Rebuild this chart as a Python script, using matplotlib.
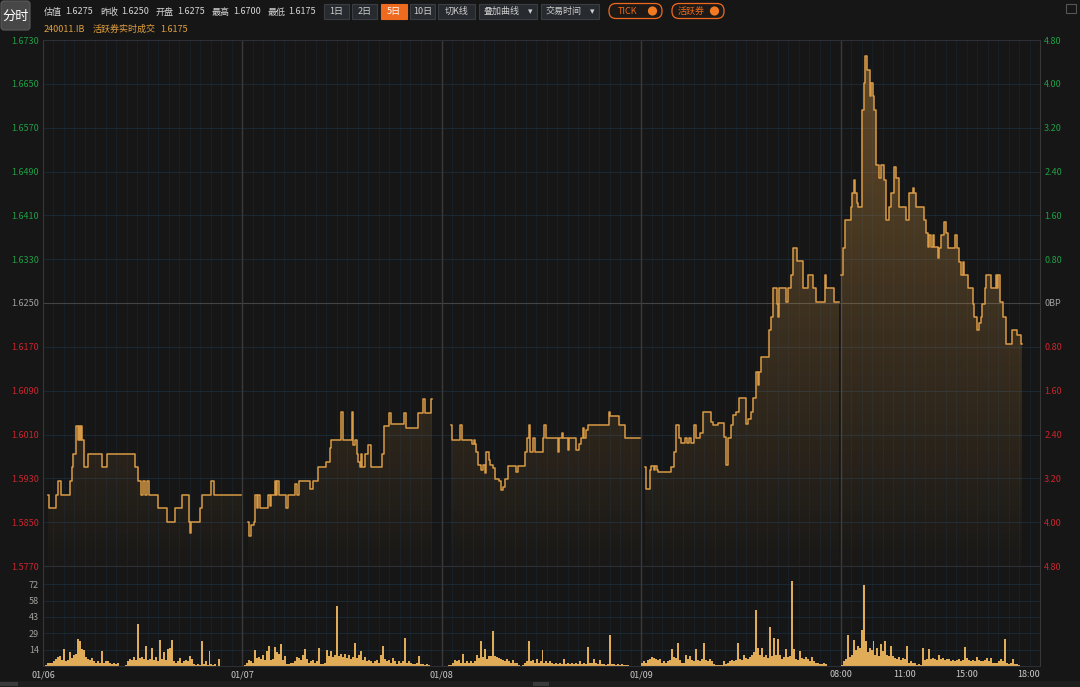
import numpy as np
import matplotlib
matplotlib.use('Agg')
import matplotlib.pyplot as plt
from matplotlib.colors import to_rgb
from matplotlib.patches import FancyBboxPatch, Circle, Rectangle

plt.rcParams['font.family'] = ['Noto Sans CJK SC', 'DejaVu Sans']

# ---------------- data ----------------
prev_close = 1.6250
price_lo, price_hi = 1.5770, 1.6730
day_labels = ['01/06', '01/07', '01/08', '01/09']
last_day_times = ['08:00', '11:00', '15:00', '18:00']
last_day_time_pos = [0, 64, 126, 189]
vol_ticks = [14.4, 28.8, 43.2, 57.6, 72.0]

quote_fields = [('估值', '1.6275'), ('昨收', '1.6250'), ('开盘', '1.6275'),
                ('最高', '1.6700'), ('最低', '1.6175')]
bond_code = '240011.IB'
last_trade_label = '活跃券实时成交'
last_trade = '1.6175'

# (session position, yield) tick breakpoints per day
day1 = [(5, 1.5900), (6, 1.5875), (12.7, 1.5900), (15, 1.5925), (17.7, 1.5900),
        (27, 1.5925), (29, 1.5950), (30.3, 1.5975), (32.7, 1.6000), (33.3, 1.6025),
        (35, 1.6000), (36, 1.6025), (37, 1.6000), (38, 1.6025), (38.7, 1.6000),
        (41, 1.5950), (45, 1.5975), (58.7, 1.5950), (64, 1.5975), (92, 1.5950),
        (95, 1.5925), (98, 1.5900), (100, 1.5925), (102, 1.5900), (104.3, 1.5925),
        (106.3, 1.5900), (115.3, 1.5875), (124.7, 1.5850), (132, 1.5875), (139.3, 1.5900),
        (146, 1.5850), (147.3, 1.5830), (148.5, 1.5850), (157, 1.5875), (159, 1.5900),
        (168.7, 1.5925), (172, 1.5900), (198.7, 1.5900)]

day2 = [(5.8, 1.5850), (6.8, 1.5825), (8.5, 1.5845), (11.5, 1.5850), (12.5, 1.5900),
        (14.5, 1.5875), (15.5, 1.5900), (17.5, 1.5875), (25.8, 1.5900), (27.5, 1.5880),
        (29, 1.5900), (32.5, 1.5925), (34, 1.5900), (35, 1.5925), (36.8, 1.5900),
        (44.2, 1.5875), (45.5, 1.5900), (53.2, 1.5920), (55, 1.5900), (56.8, 1.5925),
        (67.5, 1.5910), (70.8, 1.5925), (75.8, 1.5950), (84.2, 1.5960), (87.5, 1.5985),
        (89.2, 1.6000), (98.5, 1.6051), (100.5, 1.6000), (109.5, 1.6051), (111.2, 1.5990),
        (113, 1.6000), (114.5, 1.5975), (116, 1.5960), (117.5, 1.5950), (119, 1.5975),
        (120, 1.5950), (122.5, 1.5975), (125.8, 1.5990), (129.2, 1.5950), (140.2, 1.5975),
        (141.8, 1.6025), (147.5, 1.6050), (149.5, 1.6030), (162.5, 1.6050), (164.2, 1.6022),
        (175.8, 1.6050), (180.8, 1.6075), (183.5, 1.6050), (189.2, 1.6075), (190.5, 1.6075)]

day3 = [(9.7, 1.6028), (10.7, 1.6000), (18, 1.6028), (20.3, 1.6000), (30.7, 1.5992),
        (32, 1.6000), (33.5, 1.5992), (34.7, 1.5978), (36.3, 1.5954), (39.7, 1.5945),
        (41, 1.5954), (43, 1.5940), (44.7, 1.5978), (47, 1.5963), (48, 1.5954),
        (51.3, 1.5948), (53, 1.5928), (57, 1.5925), (59.7, 1.5908), (61.5, 1.5915),
        (63, 1.5928), (66.3, 1.5953), (74, 1.5942), (76.3, 1.5953), (83, 1.5978),
        (85.3, 1.6003), (87.3, 1.6028), (88.7, 1.5978), (91.3, 1.6003), (93, 1.5978),
        (101.3, 1.6003), (103, 1.6028), (104.7, 1.6003), (116.3, 1.5978), (118, 1.6003),
        (121, 1.6012), (122, 1.6003), (126.3, 1.5981), (128, 1.6003), (134.7, 1.5981),
        (138, 1.5993), (139.7, 1.6003), (141.3, 1.6021), (143, 1.6003), (144.7, 1.6018),
        (146.3, 1.6028), (168, 1.6051), (168.7, 1.6043), (178, 1.6028), (184, 1.6003),
        (199, 1.6003)]

day4 = [(3.5, 1.5951), (5.2, 1.5911), (8.5, 1.5945), (10.2, 1.5952), (13, 1.5945),
        (14, 1.5952), (15.8, 1.5945), (16.8, 1.5942), (30.2, 1.5951), (32.8, 1.5978),
        (35.2, 1.6027), (37.8, 1.6003), (40.2, 1.5994), (44, 1.6003), (45.5, 1.5994),
        (48, 1.6003), (49.5, 1.5994), (52.8, 1.6027), (55.2, 1.6003), (58.5, 1.6012),
        (61.8, 1.6051), (70.2, 1.6033), (71.8, 1.6027), (76.8, 1.6031), (83.5, 1.6006),
        (85.2, 1.5954), (86.8, 1.6003), (90.2, 1.6027), (91.8, 1.6045), (95.2, 1.6051),
        (98.5, 1.6076), (105.2, 1.6030), (106.8, 1.6039), (110.2, 1.6051), (111.8, 1.6076),
        (115.2, 1.6124), (116.8, 1.6100), (118.5, 1.6124), (120.2, 1.6152), (128.5, 1.6200),
        (130.2, 1.6225), (131.8, 1.6277), (135.8, 1.6249), (136.8, 1.6225), (137.8, 1.6277),
        (145.2, 1.6251), (146.8, 1.6277), (150.2, 1.6301), (151.8, 1.6350), (155.8, 1.6327),
        (162.5, 1.6277), (167.8, 1.6301), (172.8, 1.6277), (175.8, 1.6251), (184.5, 1.6301),
        (185.2, 1.6277), (193.5, 1.6251), (198.5, 1.6251)]

day5 = [(0.5, 1.6301), (2.3, 1.6350), (4, 1.6401), (10, 1.6426), (11.7, 1.6450),
        (13, 1.6474), (14, 1.6450), (16.3, 1.6432), (17.3, 1.6426), (21.7, 1.6602),
        (23, 1.6651), (24.3, 1.6700), (26.3, 1.6675), (29, 1.6627), (30.7, 1.6651),
        (32.3, 1.6627), (34, 1.6602), (35.7, 1.6502), (39, 1.6478), (40.7, 1.6502),
        (44, 1.6474), (45.7, 1.6401), (49, 1.6426), (50.7, 1.6450), (54, 1.6499),
        (55.7, 1.6478), (59, 1.6426), (65.7, 1.6401), (68.3, 1.6450), (72.3, 1.6459),
        (74, 1.6450), (75.7, 1.6426), (84, 1.6401), (85.7, 1.6377), (87.3, 1.6353),
        (89, 1.6374), (90.7, 1.6353), (92.3, 1.6374), (94, 1.6353), (97.3, 1.6332),
        (99, 1.6350), (100.7, 1.6374), (104, 1.6398), (105.7, 1.6377), (107.3, 1.6350),
        (115, 1.6374), (116.3, 1.6350), (119, 1.6325), (120.7, 1.6301), (123, 1.6325),
        (124, 1.6301), (127.3, 1.6277), (132.3, 1.6249), (134, 1.6225), (137.3, 1.6201),
        (139, 1.6213), (140.7, 1.6225), (142.3, 1.6249), (145, 1.6277), (146.3, 1.6301),
        (150.7, 1.6277), (155.7, 1.6301), (157.3, 1.6277), (158.3, 1.6301), (159.7, 1.6251),
        (163, 1.6225), (165.7, 1.6176), (172.3, 1.6201), (177.3, 1.6192), (180.7, 1.6176),
        (181.5, 1.6176)]

# traded volume, one value per 2-unit slot of each session
vol1 = [0, 1, 3, 3, 3, 4, 6, 8, 9, 5, 15, 4, 5, 12, 7, 10, 11, 24, 22, 15,
        14, 8, 6, 5, 7, 4, 3, 4, 3, 13, 3, 4, 4, 3, 2, 3, 2, 3, 0, 0,
        0, 1, 4, 6, 5, 8, 5, 37, 7, 8, 6, 18, 5, 6, 16, 5, 8, 4, 23, 6,
        12, 5, 15, 16, 23, 4, 3, 4, 7, 3, 4, 5, 4, 9, 6, 2, 1, 2, 1, 22,
        2, 4, 1, 13, 2, 1, 2, 0, 6, 0, 0, 0, 0, 0, 0, 0, 0, 0, 0, 0]
vol2 = [0, 1, 3, 5, 4, 3, 14, 7, 8, 6, 10, 5, 13, 18, 5, 6, 17, 12, 11, 19,
        5, 9, 2, 2, 3, 3, 4, 8, 7, 5, 10, 15, 6, 3, 4, 5, 3, 4, 16, 2,
        2, 3, 14, 9, 13, 8, 10, 53, 9, 11, 8, 11, 7, 10, 6, 8, 20, 7, 10, 13,
        5, 8, 4, 5, 4, 3, 4, 5, 3, 10, 18, 6, 4, 5, 3, 7, 4, 2, 4, 3,
        4, 25, 3, 4, 3, 2, 2, 3, 9, 2, 2, 1, 2, 1, 0, 0, 0, 0, 0, 0]
vol3 = [0, 0, 0, 1, 1, 3, 5, 4, 5, 3, 11, 3, 4, 3, 4, 3, 4, 10, 7, 22,
        8, 15, 6, 9, 9, 31, 9, 8, 7, 6, 5, 4, 6, 4, 3, 5, 3, 3, 1, 0,
        1, 3, 4, 22, 4, 5, 3, 6, 3, 4, 14, 3, 4, 3, 4, 3, 2, 3, 2, 3,
        2, 6, 2, 3, 2, 3, 2, 3, 2, 4, 2, 3, 2, 17, 3, 3, 6, 3, 2, 5,
        2, 2, 1, 2, 27, 2, 2, 1, 2, 1, 2, 1, 1, 1, 0, 0, 0, 0, 0, 0]
vol4 = [3, 4, 3, 5, 6, 8, 7, 6, 5, 6, 3, 4, 3, 4, 5, 15, 8, 7, 20, 5,
        3, 3, 10, 6, 9, 5, 4, 15, 5, 4, 6, 20, 5, 4, 6, 4, 2, 1, 1, 1,
        1, 4, 2, 3, 4, 5, 4, 5, 20, 6, 5, 10, 7, 6, 8, 10, 12, 49, 16, 10,
        16, 8, 10, 7, 34, 9, 25, 10, 24, 10, 6, 8, 15, 8, 9, 75, 15, 6, 5, 13,
        7, 6, 8, 6, 4, 8, 4, 3, 3, 2, 2, 3, 2, 0, 0, 0, 0, 0, 0, 0]
vol5 = [1, 4, 6, 27, 8, 10, 23, 14, 18, 16, 32, 71, 22, 12, 16, 14, 22, 10, 16, 9,
        19, 13, 22, 10, 9, 18, 9, 7, 6, 8, 5, 7, 6, 18, 3, 4, 3, 3, 1, 2,
        1, 16, 5, 6, 15, 6, 7, 6, 5, 10, 6, 7, 5, 6, 6, 4, 5, 4, 5, 6,
        4, 5, 17, 7, 5, 4, 5, 4, 8, 5, 4, 4, 5, 7, 4, 7, 3, 3, 3, 4,
        6, 4, 24, 3, 2, 3, 6, 2, 2, 1, 0, 0, 0, 0, 0, 0, 0, 0, 0, 0]

days = [day1, day2, day3, day4, day5]
vols = [vol1, vol2, vol3, vol4, vol5]

# ---------------- style ----------------
BG = '#161616'
LINE = '#d99a45'
VOL = '#e0ac58'
GRID = '#1a2834'
VGRID = '#17202a'
SEP = '#3a3a3a'
GREEN = '#1f9e45'
RED = '#c9252d'
GRAY = '#a0a0a0'
ORANGE = '#ee6a1e'
W, H = 1080, 687
DAY = 200

fig = plt.figure(figsize=(W / 100, H / 100), dpi=100, facecolor=BG)


def fig_rect(x0, y0, x1, y1):
    return [x0 / W, 1 - y1 / H, (x1 - x0) / W, (y1 - y0) / H]


ax = fig.add_axes(fig_rect(43, 40, 1040, 566), facecolor=BG)
axv = fig.add_axes(fig_rect(43, 566, 1040, 666), facecolor=BG)

yt = np.round(price_lo + 0.008 * np.arange(13), 4)

for a in (ax, axv):
    a.set_xlim(0, 5 * DAY)
    for xg in np.arange(0, 5 * DAY, DAY / 19):
        a.axvline(xg, color=VGRID, lw=0.6, zorder=0.3)
    for d in range(1, 5):
        a.axvline(d * DAY, color=SEP, lw=1.0, zorder=0.6)
    for s in a.spines.values():
        s.set_color('#2c3036')
        s.set_linewidth(0.8)
    a.spines['left'].set_color('#383838')
    a.spines['right'].set_color('#383838')

# price panel
ax.set_ylim(price_lo, price_hi)
for y in yt:
    ax.axhline(y, color='#444444' if np.isclose(y, prev_close) else GRID, lw=0.8, zorder=0.5)

grad = np.zeros((256, 1, 4))
grad[..., :3] = to_rgb(LINE)
grad[:, 0, 3] = np.linspace(0.40, 0.02, 256)

for d, pts in enumerate(days):
    t, p = zip(*pts)
    x = d * DAY + np.array(t)
    poly = ax.fill_between(x, p, price_lo, step='post', facecolor='none', edgecolor='none')
    im = ax.imshow(grad, extent=[0, 5 * DAY, price_lo, price_hi], aspect='auto',
                   origin='upper', zorder=1)
    im.set_clip_path(poly.get_paths()[0], transform=ax.transData)
    ax.plot(x, p, drawstyle='steps-post', color=LINE, lw=1.1, zorder=3)

ax.set_yticks(yt)
ax.set_yticklabels([f'{v:.4f}' for v in yt])
ax.tick_params(axis='y', length=0, pad=3, labelsize=6.5)
ax.tick_params(axis='x', bottom=False, labelbottom=False)
for lbl, v in zip(ax.get_yticklabels(), yt):
    lbl.set_color(GRAY if np.isclose(v, prev_close) else (GREEN if v > prev_close else RED))

axr = ax.twinx()
axr.set_ylim(price_lo, price_hi)
axr.set_yticks(yt)
bp = np.round((yt - prev_close) * 100, 2)
axr.set_yticklabels(['0BP' if np.isclose(b, 0) else f'{abs(b):.2f}' for b in bp])
axr.tick_params(axis='y', length=0, pad=3, labelsize=6.5)
for lbl, b in zip(axr.get_yticklabels(), bp):
    lbl.set_color(GRAY if np.isclose(b, 0) else (GREEN if b > 0 else RED))
for s in axr.spines.values():
    s.set_visible(False)

# volume panel
axv.set_ylim(0, 88)
for y in vol_ticks:
    axv.axhline(y, color=GRID, lw=0.8, zorder=0.5)
for d, v in enumerate(vols):
    xb = d * DAY + 1 + 2 * np.arange(len(v))
    axv.bar(xb, v, width=2.0, color=VOL, lw=0, zorder=2)
axv.set_yticks(vol_ticks)
axv.set_yticklabels([f'{v:.0f}' for v in vol_ticks])
axv.tick_params(axis='y', length=0, pad=3, labelsize=6.5, labelcolor=GRAY)
xt = [d * DAY for d in range(4)] + [4 * DAY + p for p in last_day_time_pos]
axv.set_xticks(xt)
axv.set_xticklabels(day_labels + last_day_times)
axv.tick_params(axis='x', length=0, pad=3, labelsize=6.5, labelcolor='#c8c8c8')

# header / chrome
ui = fig.add_axes([0, 0, 1, 1], facecolor='none')
ui.set_xlim(0, W)
ui.set_ylim(H, 0)
ui.axis('off')

ui.add_patch(FancyBboxPatch((1, 1), 29, 29, boxstyle='round,pad=0,rounding_size=3',
                            fc='#474747', ec='#5c5c5c', lw=0.8))
ui.text(15.5, 16, '分时', color='white', fontsize=9.5, ha='center', va='center')

xq = 44
for name, val in quote_fields:
    ui.text(xq, 12, name, color='#d6d6d6', fontsize=6.5, va='center')
    ui.text(xq + 21.5, 12, val, color='#d6d6d6', fontsize=6.5, va='center')
    xq += 55.8
ui.text(44, 29, bond_code, color='#e0a040', fontsize=6.5, va='center')
ui.text(92.5, 29, last_trade_label, color='#e0a040', fontsize=6.5, va='center')
ui.text(160, 29, last_trade, color='#e0a040', fontsize=6.5, va='center')

buttons = [('1日', 324, 349), ('2日', 352, 377), ('5日', 381, 407), ('10日', 410, 435),
           ('切K线', 438, 475), ('叠加曲线', 479, 537), ('交易时间', 541, 599)]
for txt, x0, x1 in buttons:
    active = txt == '5日'
    ui.add_patch(Rectangle((x0, 3.5), x1 - x0, 15, fc=ORANGE if active else '#272a2e',
                           ec=ORANGE if active else '#3a3e44', lw=0.8))
    if txt in ('叠加曲线', '交易时间'):
        ui.text(x0 + 23, 11.3, txt, color='#cfcfcf', fontsize=6.5, ha='center', va='center')
        ui.text(x1 - 6.5, 11.3, '▾', color='#cfcfcf', fontsize=6.5, ha='center', va='center')
    else:
        ui.text((x0 + x1) / 2, 11.3, txt, color='white' if active else '#cfcfcf',
                fontsize=6.5, ha='center', va='center')

for txt, x0, x1, tx in [('TICK', 609, 662, 627), ('活跃券', 672, 724, 691)]:
    ui.add_patch(FancyBboxPatch((x0, 3.5), x1 - x0, 15, boxstyle='round,pad=0,rounding_size=7',
                                fc='#1d1916', ec=ORANGE, lw=0.9))
    ui.text(tx, 11.3, txt, color=ORANGE, fontsize=6.5, ha='center', va='center')
    ui.add_patch(Circle((x1 - 9.5, 11), 4.6, fc='#f27a22', ec='none'))

ui.add_patch(Rectangle((1066, 4), 10, 9, fc='none', ec='#555555', lw=0.8))
ui.add_patch(Rectangle((0, 681), W, 6, fc='#1e1e1e', ec='none'))
ui.add_patch(Rectangle((0, 682), 18, 4, fc='#3a3a3a', ec='none'))
ui.add_patch(Rectangle((533, 682), 16, 4, fc='#3a3a3a', ec='none'))

fig.savefig('out.png', dpi=100, facecolor=BG)
